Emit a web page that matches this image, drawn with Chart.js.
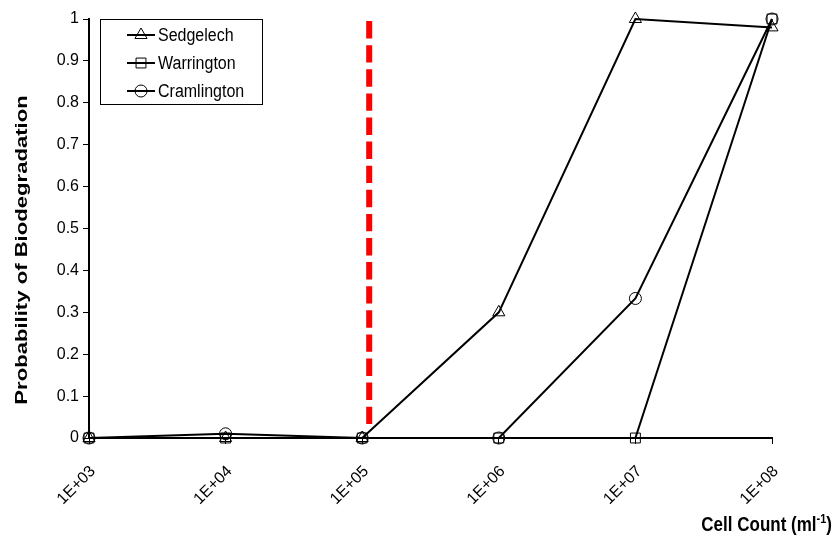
<!DOCTYPE html>
<html><head><meta charset="utf-8">
<script src="https://cdn.jsdelivr.net/npm/chart.js@4.4.1/dist/chart.umd.min.js"></script>
<style>html,body{margin:0;padding:0;background:#fff;}#wrap{width:835px;height:539px;}</style>
</head><body><div id="wrap"><canvas id="c" width="835" height="539"></canvas></div>
<script>
// ---- data ----
const cellCounts = [1e3, 1e4, 1e5, 1e6, 1e7, 1e8];
const xTickValues = [1e3, 1e4, 1e5, 1e6, 1e7, 1e8];
const xTickLabels = ['1E+03', '1E+04', '1E+05', '1E+06', '1E+07', '1E+08'];
const yTickLabels = ['0', '0.1', '0.2', '0.3', '0.4', '0.5', '0.6', '0.7', '0.8', '0.9', '1'];
const seriesNames = ['Sedgelech', 'Warrington', 'Cramlington'];
const sedgelech = [0, 0, 0, 0.3, 1.0, 0.98];
const warrington = [0, 0, 0, 0, 0, 1.0];
const cramlington = [0, 0.01, 0, 0, 0.333, 1.0];
const thresholdX = [1.125e5, 1.125e5];
const thresholdY = [0.995, 0.02];
const yTitle = 'Probability of Biodegradation';
const xTitleMain = 'Cell Count (ml';
const xTitleSup = '-1';
const xTitleEnd = ')';

const FONT = "'Liberation Sans', Arial, sans-serif";
const toXY = (xs, ys) => xs.map((x, i) => ({x: x, y: ys[i]}));
const styles = [
  {pointStyle: 'triangle', pointRadius: 7},
  {pointStyle: 'rect', pointRadius: 7},
  {pointStyle: 'circle', pointRadius: 6}
];
const seriesValues = [sedgelech, warrington, cramlington];

const datasets = seriesValues.map((vals, i) => ({
  label: seriesNames[i],
  data: toXY(cellCounts, vals),
  borderColor: '#000',
  borderWidth: 2,
  backgroundColor: 'rgba(0,0,0,0)',
  pointBorderColor: '#000',
  pointBackgroundColor: 'rgba(0,0,0,0)',
  pointBorderWidth: 1,
  pointStyle: styles[i].pointStyle,
  pointRadius: styles[i].pointRadius,
  tension: 0,
  clip: false
}));
datasets.push({
  label: 'threshold',
  data: toXY(thresholdX, thresholdY),
  borderColor: '#ff0000',
  borderWidth: 6,
  borderDash: [17.4, 6.7],
  pointRadius: 0,
  tension: 0,
  clip: false
});

function drawMarker(ctx, style, r, x, y) {
  if (Chart.helpers && Chart.helpers.drawPoint) {
    ctx.strokeStyle = '#000';
    ctx.fillStyle = 'rgba(0,0,0,0)';
    ctx.lineWidth = 1;
    Chart.helpers.drawPoint(ctx, {pointStyle: style, radius: r, borderWidth: 1, rotation: 0}, x, y);
  }
}

const legendPlugin = {
  id: 'insideLegend',
  afterDatasetsDraw(chart) {
    const ctx = chart.ctx;
    ctx.save();
    const bx = 100.5, by = 19.5, bw = 162, bh = 85;
    ctx.fillStyle = '#fff';
    ctx.fillRect(bx, by, bw, bh);
    ctx.strokeStyle = '#000';
    ctx.lineWidth = 1;
    ctx.strokeRect(bx, by, bw, bh);
    seriesNames.forEach((name, i) => {
      const y = 35 + 28 * i;
      ctx.beginPath();
      ctx.strokeStyle = '#000';
      ctx.lineWidth = 2;
      ctx.moveTo(127, y);
      ctx.lineTo(155, y);
      ctx.stroke();
      drawMarker(ctx, styles[i].pointStyle, styles[i].pointRadius, 141, y);
      ctx.save();
      ctx.translate(158, y + 1);
      ctx.scale(1, 1.15);
      ctx.fillStyle = '#000';
      ctx.font = '16px ' + FONT;
      ctx.textAlign = 'left';
      ctx.textBaseline = 'middle';
      ctx.fillText(name, 0, 0);
      ctx.restore();
    });
    ctx.restore();
  }
};

const titlesPlugin = {
  id: 'axisTitles',
  afterDraw(chart) {
    const ctx = chart.ctx;
    // y-axis title (rotated, slightly stretched along its length)
    ctx.save();
    ctx.fillStyle = '#000';
    ctx.translate(22.5, 250);
    ctx.rotate(-Math.PI / 2);
    ctx.scale(1.3, 1);
    ctx.font = 'bold 17px ' + FONT;
    ctx.textAlign = 'center';
    ctx.textBaseline = 'middle';
    ctx.fillText(yTitle, 0, 0);
    ctx.restore();
    // x-axis title with superscript
    ctx.save();
    ctx.fillStyle = '#000';
    ctx.textBaseline = 'alphabetic';
    const big = 'bold 17px ' + FONT, small = 'bold 11px ' + FONT;
    ctx.font = big; const w1 = ctx.measureText(xTitleMain).width; const w3 = ctx.measureText(xTitleEnd).width;
    ctx.font = small; const w2 = ctx.measureText(xTitleSup).width;
    const right = 832, base = 531;
    ctx.translate(right - (w1 + w2 + w3), base);
    ctx.scale(1, 1.2);
    let x = 0;
    ctx.textAlign = 'left';
    ctx.font = big; ctx.fillText(xTitleMain, x, 0); x += w1;
    ctx.font = small; ctx.fillText(xTitleSup, x, -7); x += w2;
    ctx.font = big; ctx.fillText(xTitleEnd, x, 0);
    ctx.restore();
  }
};

new Chart(document.getElementById('c'), {
  type: 'line',
  data: {datasets: datasets},
  plugins: [legendPlugin, titlesPlugin],
  options: {
    responsive: false,
    animation: false,
    devicePixelRatio: 1,
    layout: {padding: {top: 19, right: 63, left: 0, bottom: 0}},
    plugins: {legend: {display: false}, tooltip: {enabled: false}},
    scales: {
      x: {
        type: 'logarithmic',
        min: 1e3, max: 1e8,
        afterBuildTicks: (s) => { s.ticks = xTickValues.map(v => ({value: v})); },
        afterFit: (s) => { s.height = 101; },
        ticks: {
          autoSkip: false, minRotation: 45, maxRotation: 45, color: '#000',
          padding: 18, labelOffset: 4,
          font: {family: FONT, size: 16},
          callback: (v, i) => xTickLabels[i]
        },
        grid: {display: true, drawOnChartArea: false, drawTicks: true, tickLength: 6, color: '#000', lineWidth: 1},
        border: {display: true, color: '#000', width: 2}
      },
      y: {
        type: 'linear',
        min: 0, max: 1,
        afterFit: (s) => { s.width = 89; },
        ticks: {
          stepSize: 0.1, color: '#000', padding: 4,
          font: {family: FONT, size: 16},
          callback: (v, i) => yTickLabels[i]
        },
        grid: {display: true, drawOnChartArea: false, drawTicks: true, tickLength: 6, color: '#000', lineWidth: 1},
        border: {display: true, color: '#000', width: 2}
      }
    }
  }
});
</script></body></html>
